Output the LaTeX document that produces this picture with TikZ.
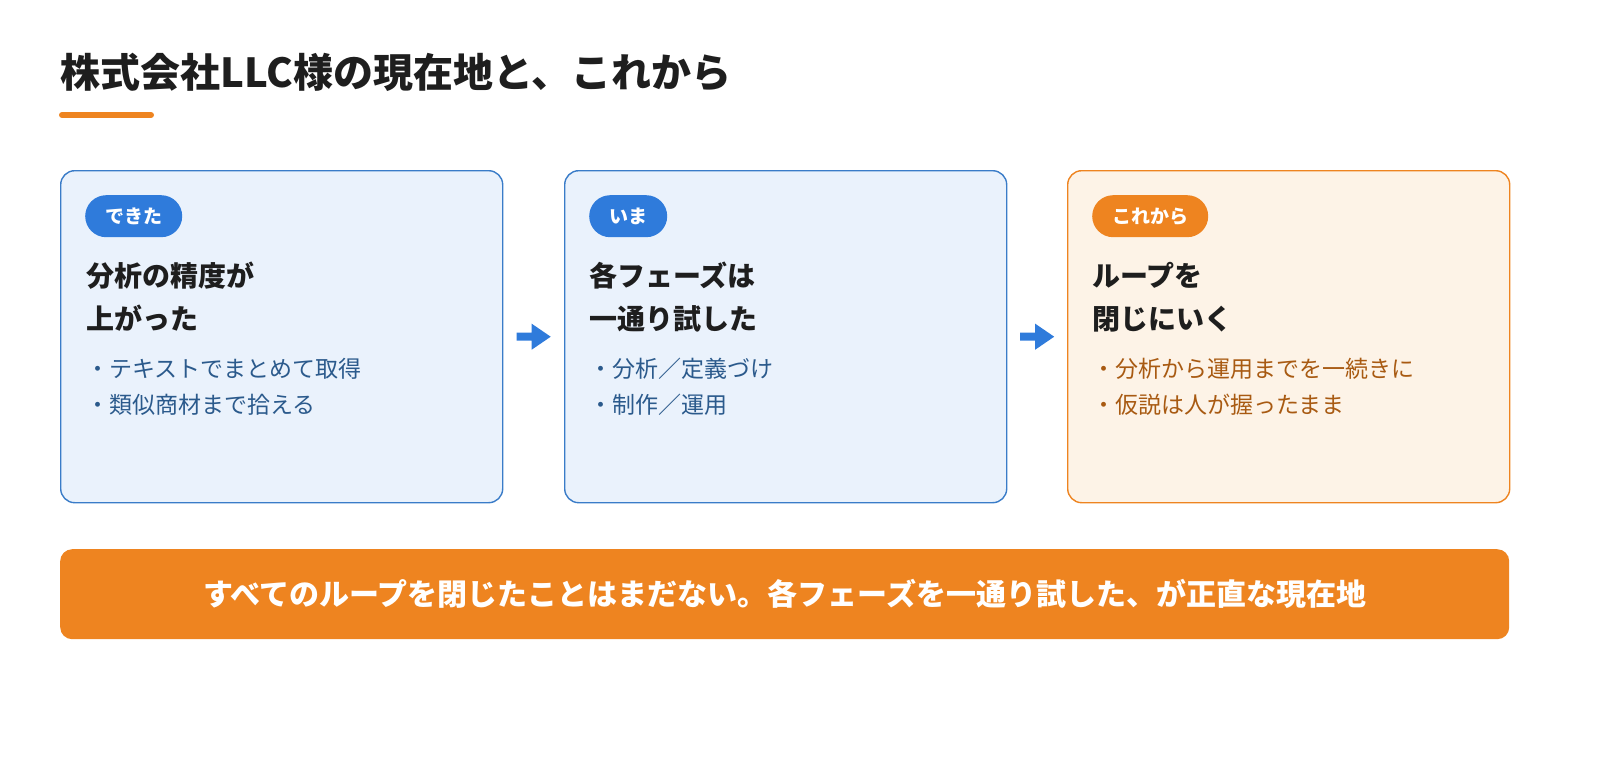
\documentclass[tikz,border=0pt]{standalone}
\usepackage{fontspec}
\setmainfont{Noto Sans CJK JP}
\usetikzlibrary{positioning}
\definecolor{accent}{HTML}{EE8420}
\definecolor{blu}{HTML}{2F7BDB}
\definecolor{bluline}{HTML}{3A7CC8}
\definecolor{blufill}{HTML}{EAF2FC}
\definecolor{blutext}{HTML}{2B5A8C}
\definecolor{orfill}{HTML}{FDF3E7}
\definecolor{ortext}{HTML}{A85A12}
\definecolor{ink}{HTML}{1E1E1E}
\tikzset{
  card/.style={draw=#1, line width=1.4pt, rounded corners=14pt, minimum width=442pt, minimum height=332pt, anchor=north west},
  badge/.style={fill=#1, text=white, rounded corners=21pt, minimum height=42pt, inner xsep=20pt, font=\fontsize{19}{19}\selectfont\bfseries, anchor=north west},
  head/.style={text=ink, align=left, anchor=north west, inner sep=0pt, font=\fontsize{28}{43}\selectfont\bfseries},
  items/.style={text=#1, align=left, anchor=north west, inner sep=0pt, font=\fontsize{23}{36}\selectfont},
  step/.style={fill=blu, draw=none}
}
\begin{document}
\begin{tikzpicture}[x=1pt,y=-1pt]
  \useasboundingbox (0,0) rectangle (1600,760);
  % title
  \node[anchor=base west, inner sep=0pt, text=ink, font=\fontsize{40}{40}\selectfont\bfseries] (title) at (60,88) {株式会社LLC様の現在地と、これから};
  \draw[accent, line width=6pt, line cap=round] (62,115) -- (151,115);
  % cards
  \node[card=bluline, fill=blufill] (done) at (60,170) {};
  \node[card=bluline, fill=blufill] (now) at (564,170) {};
  \node[card=accent, fill=orfill] (next) at (1067,170) {};
  \node[badge=blu] (bdone) at (85,195) {できた};
  \node[badge=blu] (bnow) at (589,195) {いま};
  \node[badge=accent] (bnext) at (1092,195) {これから};
  \node[head] (hdone) at (86,262) {分析の精度が\\上がった};
  \node[head] (hnow) at (589,262) {各フェーズは\\一通り試した};
  \node[head] (hnext) at (1092,262) {ループを\\閉じにいく};
  \node[items=blutext] (idone) at (86,358) {・テキストでまとめて取得\\・類似商材まで拾える};
  \node[items=blutext] (inow) at (589,358) {・分析／定義づけ\\・制作／運用};
  \node[items=ortext] (inext) at (1092,358) {・分析から運用までを一続きに\\・仮説は人が握ったまま};
  % arrows
  \foreach \a/\b in {done/now, now/next}{
    \path (\a.east) -- (\b.west) coordinate[pos=0.5] (m);
    \fill[blu] ([xshift=-17pt,yshift=-4pt]m) -- ([xshift=-2pt,yshift=-4pt]m) -- ([xshift=-2pt,yshift=-13pt]m)
      -- ([xshift=17pt]m) -- ([xshift=-2pt,yshift=13pt]m) -- ([xshift=-2pt,yshift=4pt]m) -- ([xshift=-17pt,yshift=4pt]m) -- cycle;
  }
  % banner
  \node[fill=accent, rounded corners=12pt, minimum width=1449pt, minimum height=90pt, anchor=north west, text=white, font=\fontsize{30}{30}\selectfont\bfseries] (banner) at (60,549) {すべてのループを閉じたことはまだない。各フェーズを一通り試した、が正直な現在地};
\end{tikzpicture}
\end{document}
